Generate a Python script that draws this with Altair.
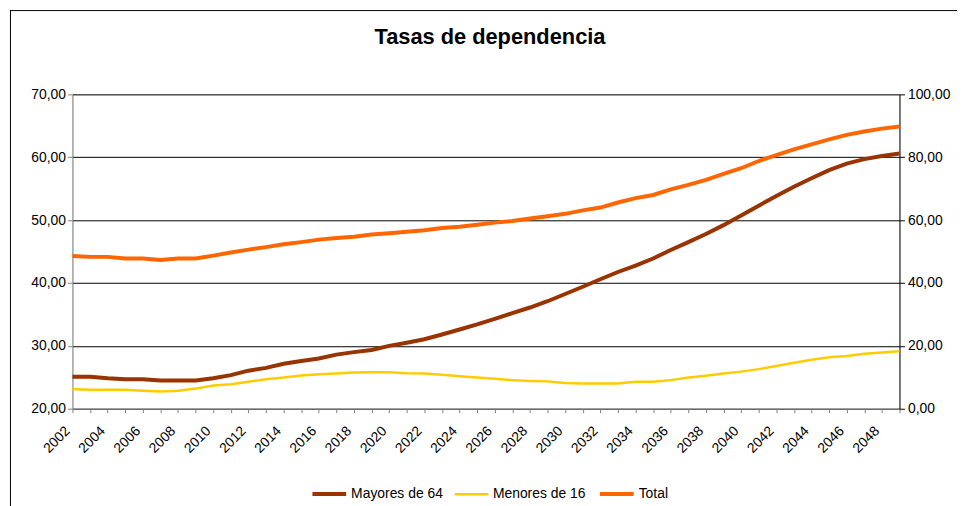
import altair as alt
import pandas as pd

years = list(range(2002, 2050))
mayores = [25.1, 25.1, 24.85, 24.7, 24.7, 24.5, 24.5, 24.5, 24.85, 25.35,
           26.05, 26.5, 27.15, 27.6, 28.0, 28.6, 29.0, 29.35, 30.0, 30.5,
           31.05, 31.8, 32.6, 33.4, 34.3, 35.2, 36.1, 37.1, 38.25, 39.4,
           40.6, 41.75, 42.75, 43.9, 45.25, 46.5, 47.8, 49.2, 50.75, 52.3,
           53.85, 55.3, 56.65, 57.95, 59.0, 59.7, 60.2, 60.6]
menores = [23.15, 23.0, 23.0, 23.0, 22.85, 22.75, 22.85, 23.2, 23.7, 23.9,
           24.3, 24.7, 24.95, 25.3, 25.5, 25.6, 25.75, 25.8, 25.8, 25.65,
           25.6, 25.4, 25.15, 24.95, 24.75, 24.55, 24.4, 24.35, 24.1, 24.0,
           24.0, 24.0, 24.3, 24.3, 24.55, 24.95, 25.25, 25.6, 25.9, 26.3,
           26.8, 27.3, 27.8, 28.2, 28.4, 28.75, 28.95, 29.15]
total = [48.6, 48.3, 48.3, 47.8, 47.8, 47.3, 47.8, 47.8, 48.7, 49.7,
         50.6, 51.4, 52.3, 53.0, 53.8, 54.3, 54.7, 55.4, 55.8, 56.3,
         56.8, 57.5, 57.9, 58.5, 59.2, 59.7, 60.5, 61.2, 62.0, 63.1,
         64.0, 65.6, 67.0, 68.0, 69.8, 71.2, 72.8, 74.7, 76.5, 78.8,
         80.7, 82.5, 84.1, 85.7, 87.1, 88.2, 89.1, 89.8]

series = ["Mayores de 64", "Menores de 16", "Total"]
colors = ["#993300", "#FFCC00", "#FF6600"]
widths = [4, 2.5, 4]
left_ticks = [20, 30, 40, 50, 60, 70]
right_ticks = [0, 20, 40, 60, 80, 100]
title_text = "Tasas de dependencia"

rows = []
for yr, a, b, c in zip(years, mayores, menores, total):
    rows.append({"year": yr, "serie": series[0], "valor": a})
    rows.append({"year": yr, "serie": series[1], "valor": b})
    rows.append({"year": yr, "serie": series[2], "valor": c})
df = pd.DataFrame(rows)

W, H = 834, 317
FONT = "Liberation Sans"
comma_fmt = "replace(format(datum.value, '.2f'), '.', ',')"

x_enc = alt.X(
    "year:Q",
    scale=alt.Scale(domain=[2002, 2049], nice=False, zero=False),
    axis=alt.Axis(title=None, values=years,
                  labelExpr="datum.value % 2 == 0 ? '' + datum.value : ''",
                  labelAngle=-45, tickSize=4, domainColor="#808080",
                  tickColor="#808080", labelFontSize=14, labelFont=FONT,
                  labelColor="#000", grid=False, labelFlush=False,
                  labelOverlap=False, labelPadding=11, labelOffset=-10),
)

legend = alt.Legend(title=None, orient="none", legendX=240, legendY=384,
                    direction="horizontal", symbolType="stroke",
                    symbolSize=1156, labelFontSize=14, labelFont=FONT,
                    labelColor="#000", columnPadding=6, labelOffset=3)

color_enc = alt.Color("serie:N", scale=alt.Scale(domain=series, range=colors),
                      legend=legend)
sw_enc = alt.StrokeWidth("serie:N",
                         scale=alt.Scale(type="ordinal", domain=series, range=widths),
                         legend=legend)

base = alt.Chart(df)

left = base.transform_filter(
    alt.FieldOneOfPredicate(field="serie", oneOf=series[:2])
).mark_line().encode(
    x=x_enc,
    y=alt.Y("valor:Q", scale=alt.Scale(domain=[20, 70], nice=False, zero=False),
            axis=alt.Axis(title=None, values=left_ticks, labelExpr=comma_fmt,
                          grid=True, gridColor="#000", gridWidth=1,
                          domainColor="#808080", tickColor="#808080", tickSize=5,
                          labelFontSize=14, labelFont=FONT, labelColor="#000",
                          labelPadding=2)),
    color=color_enc,
    strokeWidth=sw_enc,
    detail="serie:N",
)

right = base.transform_filter(
    alt.FieldEqualPredicate(field="serie", equal="Total")
).mark_line().encode(
    x=x_enc,
    y=alt.Y("valor:Q", scale=alt.Scale(domain=[0, 100], nice=False, zero=False),
            axis=alt.Axis(title=None, orient="right", values=right_ticks,
                          labelExpr=comma_fmt, grid=False, domainColor="#000",
                          tickColor="#000", tickSize=5, labelFontSize=14,
                          labelFont=FONT, labelColor="#000", labelPadding=3)),
    color=color_enc,
    strokeWidth=sw_enc,
)

frame_df = pd.DataFrame({"k": [0]})
top_line = alt.Chart(frame_df).mark_rule(color="#000", strokeWidth=1).encode(
    x=alt.value(-63), x2=alt.value(W + 60), y=alt.value(-84.5))
left_line = alt.Chart(frame_df).mark_rule(color="#000", strokeWidth=1).encode(
    x=alt.value(-62.5), y=alt.value(-85), y2=alt.value(H + 100))
title_mark = alt.Chart(frame_df).mark_text(
    font=FONT, fontSize=22, fontWeight="bold", color="#000",
    align="center", baseline="alphabetic"
).encode(x=alt.value(W / 2 + 4), y=alt.value(-51), text=alt.value(title_text))

chart = alt.layer(left, right, top_line, left_line, title_mark).resolve_scale(
    y="independent"
).properties(
    width=W, height=H,
    padding={"left": 65, "top": 85, "right": 58, "bottom": 96},
    autosize=alt.AutoSizeParams(type="none"),
).configure_view(stroke=None).configure(background="white")

chart.save("out.html", embed_options={"renderer": "svg", "actions": False})
